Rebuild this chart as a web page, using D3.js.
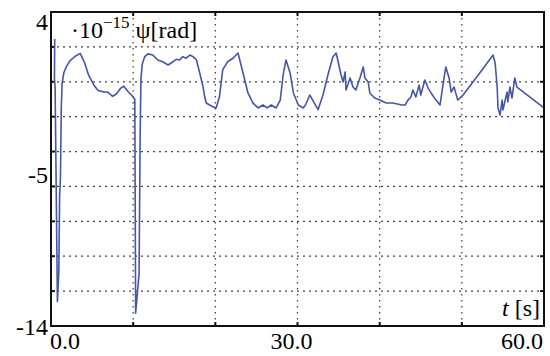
<!DOCTYPE html>
<html>
<head>
<meta charset="utf-8">
<script src="https://cdn.jsdelivr.net/npm/d3@7"></script>
</head>
<body style="margin:0; font-family: 'Times New Roman', 'Liberation Serif', serif;">
<script>
// time [s] and psi [1e-15 rad]
const times = [0.45, 0.42, 0.5, 0.78, 0.95, 1.05, 1.15, 1.25, 1.35, 1.55, 1.85, 2.3, 2.9, 3.55, 4.1, 4.6, 5.3, 5.75, 6.4, 6.9, 7.5, 7.95, 8.5, 8.85, 9.4, 9.98, 10.1,
  10.2, 10.3, 10.72, 10.85, 10.95, 11.1, 11.4, 11.8, 12.4, 13.0, 13.6, 14.25, 14.85, 15.25, 15.65, 16.05, 16.45, 16.9, 17.3, 17.7,
  18.1, 18.5, 18.7, 18.9, 19.3, 19.7, 20.1, 20.5, 20.9, 21.5, 22.15, 22.76, 23.37, 23.97, 24.58, 25.2, 25.8, 26.3, 26.8, 27.4,
  27.9, 28.25, 28.6, 29.1, 29.5, 30.1, 30.7, 31.0, 31.5, 31.9, 32.5, 33.1, 33.7, 34.3, 34.7, 34.9, 35.3, 35.55, 35.8, 35.9,
  36.4, 36.75, 37.1, 37.6, 38.0, 38.2, 38.6, 38.8, 39.4, 40.0, 40.8, 41.6, 42.7, 43.1, 43.45, 43.8, 44.05, 44.4, 44.8, 45.0,
  45.5, 45.9, 46.25, 46.85, 47.35, 47.7, 48.05, 48.45, 48.7, 49.05, 49.5, 50.15, 52.0, 53.8, 54.05, 54.3, 54.4, 54.65, 54.9,
  55.0, 55.5, 55.6, 55.85, 56.1, 56.45, 56.7, 60.0];
const psi = [2.45, 0.15, -0.3, -12.6, -10.9, -6.5, -5.5, -1.5, -0.1, 0.5, 0.85, 1.2, 1.45, 1.63, 1.08, 0.35, -0.25, -0.5, -0.58, -0.6, -0.83, -0.7, -0.36, -0.25, -0.57, -0.86, -0.95,
  -1.0, -13.26, -11.0, -3, 0.2, 1.0, 1.44, 1.6, 1.53, 1.25, 1.15, 0.96, 1.15, 1.29, 1.25, 1.44, 1.35, 1.53, 1.44, 1.25,
  0.5, -0.28, -0.86, -1.22, -1.33, -1.43, -1.5, -0.86, 0.7, 1.15, 1.35, 1.65, 0.5, -0.64, -1.22, -1.5, -1.33, -1.5, -1.33, -1.5,
  -1.05, 0.39, 1.25, 0.5, -0.64, -1.33, -1.5, -1.3, -0.76, -1.1, -1.6, -0.76, 0.39, 1.42, 1.65, 1.25, 0.39, -0.01, 0.56, -0.47,
  0.22, -0.3, -0.47, 0.22, 0.85, 0.22, -0.01, -0.64, -0.93, -1.05, -1.22, -1.22, -1.33, -1.33, -1.05, -0.87, -0.47, -0.87, -0.19, -0.76,
  0.1, -0.36, -0.64, -1.05, -1.33, -0.19, 0.85, 0.22, -0.59, -0.3, -1.05, -0.76, 0.39, 1.53, 1.08, -0.3, -1.5, -1.91, -1.05,
  -1.62, -0.59, -1.16, -0.3, -0.93, 0.22, -0.3, -1.5];

const yGrid = [2, 0, -2, -4, -6, -8, -10, -12];
const xGrid = [10, 20, 30, 40, 50];
const yLabels = ["4", "-5", "-14"];
const xLabels = ["0.0", "30.0", "60.0"];

const fontName = "Times New Roman";

const width = 550;
const height = 356;
const margin = { top: 12, bottom: 30, left: 51, right: 6 };

const x = d3.scaleLinear()
  .domain([0, 60])
  .range([margin.left, width - margin.right]);
const y = d3.scaleLinear()
  .domain([-14, 4])
  .range([height - margin.bottom, margin.top]);

const svg = d3.select("body")
  .append("svg")
  .attr("width", width)
  .attr("height", height);

// dotted grid
svg.append("g")
  .selectAll("line")
  .data(yGrid)
  .join("line")
    .attr("x1", x(0)).attr("x2", x(60))
    .attr("y1", d => y(d)).attr("y2", d => y(d))
    .attr("stroke", "#444")
    .attr("stroke-width", 1.3)
    .attr("stroke-dasharray", "2,4");

svg.append("g")
  .selectAll("line")
  .data(xGrid)
  .join("line")
    .attr("x1", d => x(d)).attr("x2", d => x(d))
    .attr("y1", y(4)).attr("y2", y(-14))
    .attr("stroke", "#444")
    .attr("stroke-width", 1.3)
    .attr("stroke-dasharray", "1.5,4.5");

// little ticks on the frame, inner side
const tickLen = 4;
const ticks = svg.append("g").attr("stroke", "#111").attr("stroke-width", 2);
ticks.selectAll(".yl").data(yGrid).join("line").attr("class", "yl")
  .attr("x1", x(0)).attr("x2", x(0) + tickLen)
  .attr("y1", d => y(d)).attr("y2", d => y(d));
ticks.selectAll(".yr").data(yGrid).join("line").attr("class", "yr")
  .attr("x1", x(60) - tickLen).attr("x2", x(60))
  .attr("y1", d => y(d)).attr("y2", d => y(d));
ticks.selectAll(".xt").data(xGrid).join("line").attr("class", "xt")
  .attr("x1", d => x(d)).attr("x2", d => x(d))
  .attr("y1", y(4)).attr("y2", y(4) + tickLen);
ticks.selectAll(".xb").data(xGrid).join("line").attr("class", "xb")
  .attr("x1", d => x(d)).attr("x2", d => x(d))
  .attr("y1", y(-14) - tickLen).attr("y2", y(-14));

// the signal
const line = d3.line()
  .x((d, i) => x(times[i]))
  .y(d => y(d));

svg.append("path")
  .datum(psi)
  .attr("d", line)
  .attr("fill", "none")
  .attr("stroke", "#4656a6")
  .attr("stroke-width", 1.6)
  .attr("stroke-linejoin", "round");

// box behind t [s]
svg.append("rect")
  .attr("x", 495).attr("y", 292)
  .attr("width", x(60) - 495).attr("height", y(-14) - 292)
  .attr("fill", "#fff");

// frame
svg.append("rect")
  .attr("x", x(0)).attr("y", y(4))
  .attr("width", x(60) - x(0)).attr("height", y(-14) - y(4))
  .attr("fill", "none")
  .attr("stroke", "#111")
  .attr("stroke-width", 2);

// y labels
svg.selectAll(".ylab")
  .data(yLabels)
  .join("text")
    .attr("class", "ylab")
    .attr("x", 48)
    .attr("y", (d, i) => [30, 183, 335][i])
    .attr("text-anchor", "end")
    .attr("font-family", fontName)
    .attr("font-size", "24px")
    .text(d => d);

// x labels
svg.selectAll(".xlab")
  .data(xLabels)
  .join("text")
    .attr("class", "xlab")
    .attr("x", (d, i) => [x(0) - 1, x(30) - 6, x(60) - 1][i])
    .attr("y", 349)
    .attr("text-anchor", (d, i) => ["start", "middle", "end"][i])
    .attr("font-family", fontName)
    .attr("font-size", "24px")
    .text(d => d);

// axis titles
const title = svg.append("text")
  .attr("x", 71)
  .attr("y", 38)
  .attr("font-family", fontName)
  .attr("font-size", "24px");
title.append("tspan").text("·10");
title.append("tspan").attr("font-size", "17px").attr("dy", -10).text("−15");
title.append("tspan").attr("dy", 10).attr("dx", 6).text("ψ[rad]");

const tLabel = svg.append("text")
  .attr("x", 540)
  .attr("y", 316)
  .attr("text-anchor", "end")
  .attr("font-family", fontName)
  .attr("font-size", "24px");
tLabel.append("tspan").attr("font-style", "italic").text("t");
tLabel.append("tspan").text(" [s]");
</script>
</body>
</html>
